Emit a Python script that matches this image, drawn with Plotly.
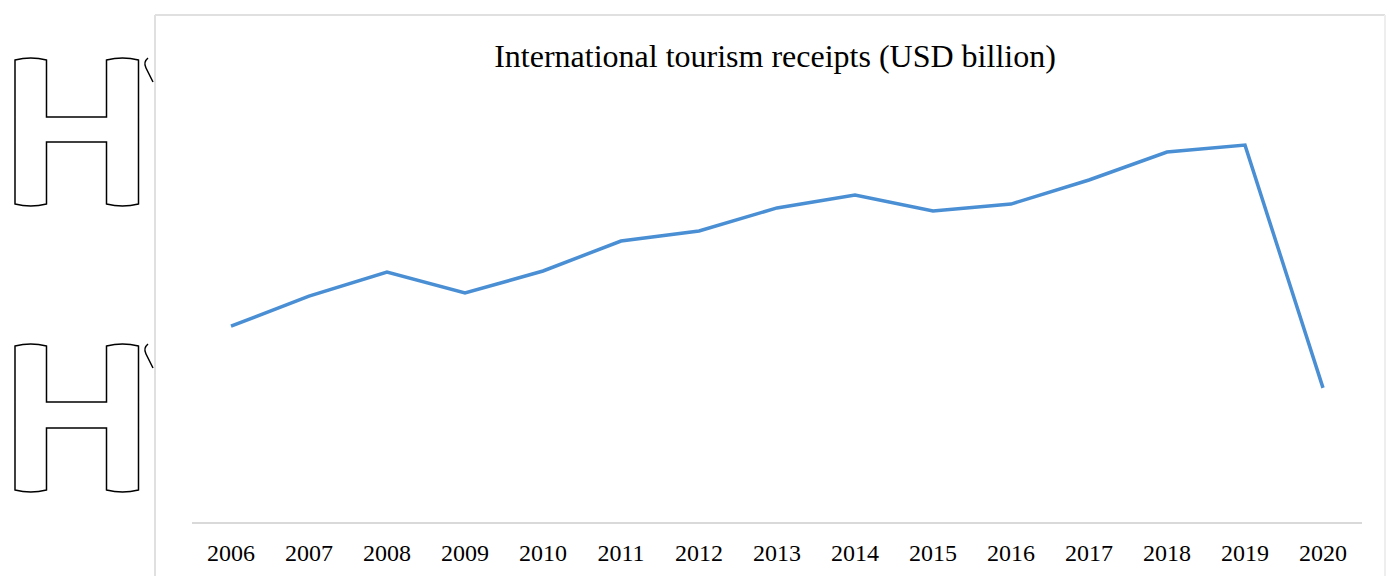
import plotly.graph_objects as go

# International tourism receipts, USD billion
years = [str(y) for y in range(2006, 2021)]
receipts = [764, 881, 975, 893, 979, 1096, 1135, 1225, 1275, 1213, 1240, 1334, 1443, 1470, 523]

W, H = 1390, 576


def px(x, y):
    """Pixel position -> paper coordinates (margins are zero)."""
    return x / W, 1 - y / H


def path_from(points_cmds):
    out = []
    for cmd, pts in points_cmds:
        coords = " ".join(f"{px(a, b)[0]:.5f},{px(a, b)[1]:.5f}" for a, b in pts)
        out.append(f"{cmd} {coords}" if pts else cmd)
    return " ".join(out)


def h_glyph(top, bottom, cross_top, cross_bot):
    l0, l1, r0, r1 = 15, 46.5, 106.5, 138.5
    return path_from([
        ("M", [(l0, top + 2)]),
        ("Q", [((l0 + l1) / 2, top - 2), (l1, top + 2)]),
        ("L", [(l1, cross_top)]),
        ("L", [(r0, cross_top)]),
        ("L", [(r0, top + 2)]),
        ("Q", [((r0 + r1) / 2, top - 2), (r1, top + 2)]),
        ("L", [(r1, bottom - 2)]),
        ("Q", [((r0 + r1) / 2, bottom + 2), (r0, bottom - 2)]),
        ("L", [(r0, cross_bot)]),
        ("L", [(l1, cross_bot)]),
        ("L", [(l1, bottom - 2)]),
        ("Q", [((l0 + l1) / 2, bottom + 2), (l0, bottom - 2)]),
        ("Z", []),
    ])


def hook(top):
    return path_from([
        ("M", [(148, top)]),
        ("Q", [(143, top + 4), (146, top + 10)]),
        ("L", [(153, top + 24)]),
    ])


fig = go.Figure()
fig.add_trace(go.Scatter(
    x=years, y=receipts, mode="lines",
    line=dict(color="#4a8fd4", width=3.5),
    hoverinfo="x+y",
))

frame = "#e0e0e0"
shapes = [
    # chart frame
    dict(type="line", xref="paper", yref="paper",
         x0=px(155, 0)[0], x1=px(155, 0)[0], y0=px(0, 15)[1], y1=0,
         line=dict(color=frame, width=2)),
    dict(type="line", xref="paper", yref="paper",
         x0=px(155, 0)[0], x1=px(1385, 0)[0], y0=px(0, 15)[1], y1=px(0, 15)[1],
         line=dict(color=frame, width=2)),
    dict(type="line", xref="paper", yref="paper",
         x0=px(1385, 0)[0], x1=px(1385, 0)[0], y0=px(0, 15)[1], y1=0,
         line=dict(color="#eeeeee", width=2)),
]
for top, bottom, ct, cb in [(58, 206, 117, 142), (344, 492, 402, 428)]:
    shapes.append(dict(type="path", xref="paper", yref="paper",
                       path=h_glyph(top, bottom, ct, cb),
                       line=dict(color="black", width=1.5), fillcolor="rgba(0,0,0,0)"))
    shapes.append(dict(type="path", xref="paper", yref="paper",
                       path=hook(top),
                       line=dict(color="black", width=1.5)))

y_bottom_px, y_top_px = 522, 60.5
fig.update_layout(
    width=W, height=H,
    margin=dict(l=0, r=0, t=0, b=0),
    paper_bgcolor="white", plot_bgcolor="white",
    showlegend=False,
    font=dict(family="Liberation Serif", color="black", size=24),
    title=dict(text="International tourism receipts (USD billion)",
               x=px(775, 0)[0], xanchor="center",
               y=px(0, 56)[1], yanchor="middle",
               font=dict(family="Liberation Serif", size=32, color="black")),
    xaxis=dict(type="category", domain=[px(192, 0)[0], px(1362, 0)[0]],
               range=[-0.5, len(years) - 0.5],
               showgrid=False, zeroline=False,
               showline=True, linecolor="#d9d9d9", linewidth=2,
               ticks="", ticklabelstandoff=8,
               tickfont=dict(family="Liberation Serif", size=24, color="black")),
    yaxis=dict(range=[0, 1800],
               domain=[px(0, y_bottom_px)[1], px(0, y_top_px)[1]],
               showgrid=False, zeroline=False, showticklabels=False,
               showline=False, ticks=""),
    shapes=shapes,
)

fig.write_html("out.html")
